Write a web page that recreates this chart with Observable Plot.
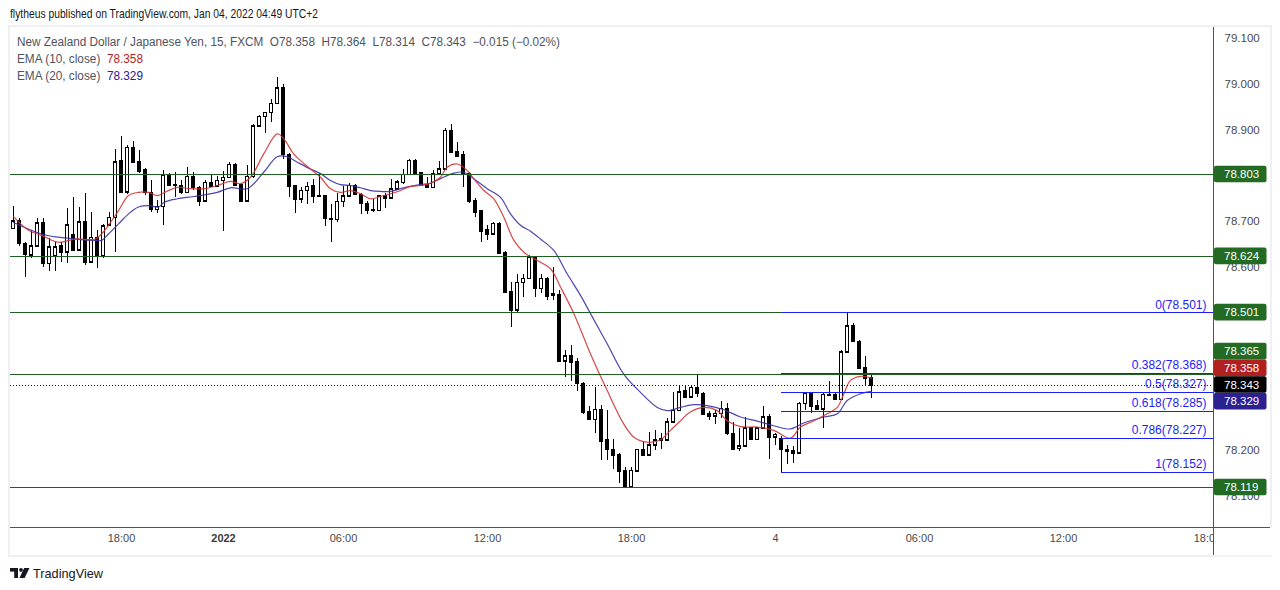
<!DOCTYPE html>
<html><head><meta charset="utf-8">
<script src="https://cdn.jsdelivr.net/npm/d3@7"></script>
<script src="https://cdn.jsdelivr.net/npm/@observablehq/plot@0.6"></script>
<style>
body{margin:0;background:#fff;width:1280px;height:590px;position:relative;overflow:hidden;font-family:"Liberation Sans",Arial,sans-serif;}
.abs{position:absolute;white-space:nowrap;transform-origin:left center;}
#frame{position:absolute;left:8px;top:25px;width:1264px;height:532px;border:2px solid #eef0f4;box-sizing:border-box;}
#chart{position:absolute;left:10px;top:27px;}
.leg{font-size:12px;color:#50535e;line-height:14px;}
</style></head><body>
<div id="header" class="abs" style="left:10px;top:6px;font-size:13px;line-height:16px;color:#131722">flytheus published on TradingView.com, Jan 04, 2022 04:49 UTC+2</div>
<div id="frame"></div>
<div id="chart"></div>
<div id="leg1" class="abs leg" style="left:17px;top:35px"></div>
<div id="leg2" class="abs leg" style="left:17px;top:52px"></div>
<div id="leg3" class="abs leg" style="left:17px;top:69px"></div>
<svg class="abs" style="left:10px;top:568px" width="20" height="11" viewBox="0 0 20 11">
  <rect x="0" y="0" width="8" height="3.6" fill="#131722"/>
  <rect x="4.2" y="0" width="3.8" height="10" fill="#131722"/>
  <circle cx="11" cy="1.9" r="1.9" fill="#131722"/>
  <polygon points="14.2,0 19.5,0 14.6,10 9.4,10" fill="#131722"/>
</svg>
<div id="footer" class="abs" style="left:33px;top:566px;font-size:13px;line-height:15px;color:#131722">TradingView</div>
<script>
// ---- data ----
const candleOpen = [
78.684,78.702,78.652,78.627,78.646,78.697,78.608,78.626,78.646,78.633,
78.671,78.638,78.700,78.611,78.665,78.626,78.692,78.708,78.832,78.764,
78.861,78.830,78.812,78.763,78.726,78.733,78.801,78.780,78.779,78.763,
78.798,78.774,78.745,78.785,78.777,78.789,78.796,78.824,78.780,78.745,
78.798,78.909,78.929,78.938,78.958,78.992,78.846,78.777,78.749,78.767,
78.777,78.756,78.755,78.706,78.704,78.744,78.755,78.779,78.759,78.739,
78.726,78.724,78.756,78.751,78.771,78.785,78.802,78.833,78.807,78.780,
78.774,78.805,78.815,78.899,78.852,78.845,78.805,78.746,78.723,78.681,
78.673,78.695,78.632,78.547,78.506,78.566,78.575,78.622,78.553,78.575,
78.541,78.540,78.395,78.406,78.393,78.346,78.285,78.267,78.289,78.222,
78.201,78.189,78.156,78.121,78.155,78.201,78.190,78.211,78.221,78.222,
78.262,78.287,78.329,78.316,78.337,78.324,78.279,78.275,78.280,78.291,
78.236,78.204,78.209,78.249,78.223,78.249,78.273,78.229,78.226,78.202,
78.199,78.194,78.302,78.324,78.298,78.290,78.322,78.322,78.311,78.415,
78.471,78.438,78.380,78.358];
const candleHigh = [
78.733,78.706,78.654,78.681,78.707,78.707,78.663,78.655,78.655,78.728,
78.753,78.732,78.761,78.721,78.681,78.694,78.721,78.857,78.885,78.866,
78.876,78.855,78.816,78.790,78.746,78.812,78.805,78.808,78.790,78.819,
78.807,78.776,78.790,78.801,78.799,78.810,78.829,78.826,78.782,78.822,
78.912,78.932,78.939,78.968,79.014,78.999,78.848,78.779,78.774,78.785,
78.792,78.805,78.757,78.737,78.761,78.777,78.783,78.781,78.761,78.743,
78.748,78.758,78.761,78.792,78.790,78.813,78.835,78.835,78.808,78.797,
78.812,78.831,78.904,78.912,78.873,78.853,78.807,78.750,78.725,78.692,
78.699,78.698,78.634,78.568,78.584,78.584,78.626,78.624,78.584,78.577,
78.600,78.550,78.418,78.429,78.402,78.348,78.295,78.337,78.298,78.287,
78.223,78.194,78.163,78.163,78.203,78.218,78.240,78.244,78.238,78.270,
78.326,78.340,78.340,78.340,78.364,78.326,78.285,78.287,78.307,78.303,
78.262,78.247,78.271,78.251,78.251,78.295,78.279,78.236,78.230,78.211,
78.209,78.305,78.327,78.326,78.309,78.324,78.351,78.324,78.418,78.501,
78.477,78.440,78.405,78.364];
const candleLow = [
78.683,78.646,78.577,78.619,78.643,78.600,78.590,78.590,78.611,78.608,
78.636,78.636,78.604,78.609,78.597,78.619,78.690,78.633,78.762,78.760,
78.826,78.806,78.757,78.720,78.718,78.692,78.777,78.753,78.760,78.761,
78.767,78.734,78.743,78.775,78.775,78.679,78.794,78.778,78.743,78.743,
78.795,78.906,78.892,78.916,78.956,78.835,78.752,78.717,78.740,78.737,
78.739,78.753,78.690,78.655,78.699,78.730,78.753,78.757,78.715,78.715,
78.721,78.722,78.729,78.749,78.769,78.782,78.800,78.804,78.777,78.772,
78.772,78.803,78.813,78.850,78.841,78.775,78.739,78.710,78.655,78.659,
78.671,78.629,78.542,78.469,78.499,78.535,78.573,78.535,78.542,78.528,
78.528,78.392,78.360,78.351,78.329,78.279,78.265,78.236,78.177,78.178,
78.158,78.128,78.119,78.119,78.153,78.188,78.188,78.200,78.202,78.220,
78.260,78.285,78.314,78.314,78.316,78.276,78.265,78.257,78.269,78.233,
78.200,78.198,78.207,78.221,78.221,78.247,78.180,78.211,78.152,78.169,
78.172,78.192,78.287,78.281,78.287,78.247,78.319,78.309,78.309,78.413,
78.435,78.378,78.342,78.314];
const candleClose = [
78.701,78.652,78.628,78.646,78.697,78.608,78.644,78.644,78.633,78.692,
78.638,78.699,78.611,78.665,78.626,78.690,78.708,78.830,78.764,78.861,
78.830,78.810,78.764,78.726,78.733,78.801,78.780,78.779,78.763,78.798,
78.774,78.745,78.785,78.777,78.789,78.796,78.824,78.780,78.745,78.798,
78.909,78.929,78.938,78.958,78.992,78.846,78.777,78.749,78.767,78.776,
78.756,78.755,78.706,78.705,78.744,78.755,78.779,78.759,78.739,78.724,
78.724,78.756,78.751,78.771,78.786,78.802,78.833,78.806,78.780,78.774,
78.805,78.815,78.899,78.852,78.843,78.805,78.745,78.721,78.679,78.673,
78.695,78.631,78.546,78.506,78.566,78.575,78.622,78.553,78.575,78.537,
78.538,78.395,78.406,78.393,78.346,78.284,78.267,78.289,78.220,78.201,
78.189,78.155,78.121,78.156,78.201,78.190,78.211,78.222,78.224,78.262,
78.287,78.327,78.316,78.337,78.324,78.278,78.275,78.280,78.291,78.236,
78.202,78.209,78.249,78.223,78.249,78.273,78.229,78.234,78.201,78.198,
78.194,78.302,78.324,78.296,78.289,78.322,78.321,78.311,78.415,78.471,
78.437,78.380,78.358,78.343];

// EMA curves (candle index, price)
const ema10Idx = [0,2.5,4.67,7.5,10.33,13.67,14.67,15.83,17.5,19.17,20.83,22.5,24,25.5,27.3,29.5,31.7,33.95,36.17,37.83,39.5,41.7,43.95,45.05,46.7,47.8,49.5,51.17,52.83,54.5,56.17,57.83,59.5,61.17,62.83,64.5,66.17,67.83,69.5,71.17,72.28,73.95,75.6,76.7,78.4,80.05,81.7,83.4,85.05,87.3,89.5,91.17,93.4,96.17,98.95,101.7,103.4,105.6,107.8,109.5,111.17,112.8,115.05,117.3,118.95,121.17,123.95,126.7,129.5,131.17,133.4,135.6,137.3,138.4,139.5,141.17,143];
const ema10Val = [78.711,78.681,78.670,78.655,78.662,78.662,78.673,78.692,78.724,78.757,78.764,78.764,78.757,78.766,78.775,78.772,78.772,78.779,78.788,78.783,78.797,78.848,78.892,78.881,78.848,78.834,78.815,78.797,78.772,78.764,78.768,78.761,78.750,78.755,78.761,78.768,78.777,78.779,78.784,78.797,78.819,78.826,78.812,78.794,78.768,78.750,78.710,78.659,78.633,78.615,78.597,78.557,78.499,78.411,78.331,78.258,78.229,78.218,78.223,78.244,78.265,78.284,78.294,78.287,78.265,78.252,78.251,78.244,78.227,78.251,78.265,78.280,78.294,78.324,78.353,78.362,78.358];
const ema20Idx = [0,4.67,7.5,10.33,13.67,14.67,15.83,17.5,19.17,20.83,22.5,24.17,25.05,27.3,30.05,33.95,36.17,38.95,41.7,43.95,45.6,47.3,49.5,51.17,52.83,54.5,56.17,57.83,59.5,61.17,62.83,64.5,66.17,67.83,69.5,71.17,73.4,75.05,76.7,78.95,81.17,82.83,84.5,86.17,87.83,90.05,92.28,94.5,96.17,98.95,101.7,104.5,107.3,108.95,111.17,113.4,115.6,118.4,121.17,123.95,126.7,129.5,131.7,135.05,137.3,138.95,141.17,143];
const ema20Val = [78.698,78.673,78.666,78.662,78.659,78.659,78.673,78.695,78.717,78.732,78.735,78.732,78.742,78.750,78.755,78.764,78.774,78.772,78.808,78.842,78.842,78.830,78.815,78.805,78.790,78.781,78.779,78.774,78.768,78.766,78.766,78.772,78.777,78.781,78.784,78.794,78.806,78.808,78.794,78.772,78.753,78.717,78.692,78.679,78.662,78.637,78.586,78.539,78.499,78.433,78.367,78.327,78.294,78.287,78.294,78.300,78.298,78.289,78.273,78.264,78.254,78.247,78.260,78.273,78.280,78.309,78.324,78.329];

const supportLevels = [78.803, 78.624, 78.501, 78.365, 78.119];
const fibRatios = [0, 0.382, 0.5, 0.618, 0.786, 1];
const fibPrices = [78.501, 78.368, 78.327, 78.285, 78.227, 78.152];
const fibStartIdx = 128;

// price labels that are visible (the others sit under the price badges)
const priceTicks = [78.1, 78.2, 78.6, 78.7, 78.9, 79.0, 79.1];
const timeTickIdx = [18, 35, 55, 79, 103, 127, 151, 175, 199];
const timeTickLabels = ["18:00", "2022", "06:00", "12:00", "18:00", "4", "06:00", "12:00", "18:00"];

const lastO = 78.358, lastH = 78.364, lastL = 78.314, lastC = 78.343;
const ema10Last = 78.358, ema20Last = 78.329;

const badgePrice = [78.803, 78.624, 78.501, 78.365, 78.358, 78.343, 78.329, 78.119];
const badgeKind = ["level", "level", "level", "level", "ema10", "last", "ema20", "level"];

// ---- styling ----
const FONT = '"Liberation Sans", Arial, sans-serif';
const GREEN_LINE = "#1f5f21", GREEN_BADGE = "#236a23";
const RED = "#cf3434", RED_BADGE = "#b21f1f";
const BLUE_EMA = "#3b31a6", BLUE_BADGE = "#2c2190";
const FIB = "#1d1df5";
const badgeColor = {level: GREEN_BADGE, ema10: RED_BADGE, last: "#000000", ema20: BLUE_BADGE};

const candles = candleOpen.map((o, i) => ({i, open: o, high: candleHigh[i], low: candleLow[i], close: candleClose[i]}));
const ema10 = ema10Idx.map((x, k) => ({i: x, v: ema10Val[k]}));
const ema20 = ema20Idx.map((x, k) => ({i: x, v: ema20Val[k]}));
const fib = fibRatios.map((r, k) => ({ratio: r, price: fibPrices[k]}));
const timeTicks = timeTickIdx.map((x, k) => ({i: x, label: timeTickLabels[k]}));
const X_MAX = 200;
const HW = 0.29;

const chart = Plot.plot({
  width: 1260, height: 528,
  marginLeft: 0, marginRight: 57, marginTop: 0, marginBottom: 28,
  x: {domain: [-0.5, X_MAX], axis: null},
  y: {domain: [78.0316, 79.1243]},
  style: {background: "white", fontFamily: FONT, fontSize: "11px", overflow: "visible"},
  marks: [
    Plot.axisY(priceTicks, {anchor: "right", tickSize: 0, tickPadding: 11, tickFormat: d3.format(".3f"), fontSize: 11.5, color: "#4a4a4a"}),
    Plot.text(timeTicks.filter(d => d.label !== "2022"), {x: "i", text: "label", frameAnchor: "bottom", dy: 14, fontSize: 11, fill: "#4a4a4a"}),
    Plot.text(timeTicks.filter(d => d.label === "2022"), {x: "i", text: "label", frameAnchor: "bottom", dy: 14, fontSize: 11, fontWeight: "bold", fill: "#3a3a3a"}),
    // wicks
    Plot.ruleX(candles, {x: "i", y1: "low", y2: "high", stroke: "#000", strokeWidth: 1, shapeRendering: "crispEdges"}),
    // bodies
    Plot.rect(candles, {x1: d => d.i - HW, x2: d => d.i + HW, y1: "open", y2: "close",
      fill: d => d.close >= d.open ? "#ffffff" : "#000000", stroke: "#000", strokeWidth: 1, shapeRendering: "crispEdges"}),
    Plot.ruleY(candles, {y: "open", x1: d => d.i - HW, x2: d => d.i + HW, stroke: "#000", shapeRendering: "crispEdges"}),
    Plot.ruleY(candles, {y: "close", x1: d => d.i - HW, x2: d => d.i + HW, stroke: "#000", shapeRendering: "crispEdges"}),
    // EMAs
    Plot.line(ema20, {x: "i", y: "v", stroke: BLUE_EMA, strokeWidth: 1.2, curve: "catmull-rom", strokeOpacity: 0.9}),
    Plot.line(ema10, {x: "i", y: "v", stroke: RED, strokeWidth: 1.2, curve: "catmull-rom", strokeOpacity: 0.9}),
    // support / resistance
    Plot.ruleY(supportLevels, {stroke: GREEN_LINE, strokeWidth: 1, shapeRendering: "crispEdges"}),
    // fibonacci
    Plot.ruleY(fib, {y: "price", x1: () => fibStartIdx, x2: () => X_MAX, stroke: FIB, strokeWidth: 1, shapeRendering: "crispEdges"}),
    Plot.text(fib, {y: "price", frameAnchor: "right", textAnchor: "end", dx: -7, dy: -8, fill: FIB, fontSize: 12,
      text: d => `${d.ratio}(${d.price.toFixed(3)})`}),
    // last price dotted
    Plot.ruleY([lastC], {stroke: "#131722", strokeDasharray: "1,2", strokeWidth: 1, shapeRendering: "crispEdges"})
  ]
});
document.getElementById("chart").appendChild(chart);

// axis lines, clip, and price badges
const svg = d3.select(chart);
const ys = chart.scale("y");
const fw = 1203; // right edge of the plot frame
svg.append("rect").attr("x", fw + 0.5).attr("y", 500.5).attr("width", 60).attr("height", 28).attr("fill", "white");
svg.append("line").attr("x1", fw + 0.5).attr("x2", fw + 0.5).attr("y1", 0).attr("y2", 528).attr("stroke", "#50535e");
svg.append("line").attr("x1", 0).attr("x2", 1260).attr("y1", 500.5).attr("y2", 500.5).attr("stroke", "#50535e");

const H = 16.7;
const items = badgePrice.map((p, k) => ({p, kind: badgeKind[k], y: ys.apply(p)}));
const anchor = items.find(d => d.kind === "last");
let prev = anchor.y;
for (const d of items.filter(d => d.p > anchor.p).sort((a, b) => a.p - b.p)) { d.y = Math.min(d.y, prev - H); prev = d.y; }
prev = anchor.y;
for (const d of items.filter(d => d.p < anchor.p).sort((a, b) => b.p - a.p)) { d.y = Math.max(d.y, prev + H); prev = d.y; }
const bg = svg.append("g").attr("text-anchor", "start");
for (const d of items) {
  bg.append("rect").attr("x", fw + 1).attr("y", d.y - H / 2).attr("width", 52.5).attr("height", H).attr("rx", 2).attr("fill", badgeColor[d.kind]);
  bg.append("text").attr("x", fw + 11).attr("y", d.y).attr("dy", "0.35em").attr("fill", "white")
    .attr("text-anchor", "start").attr("font-size", 11.5).attr("font-family", FONT).text(d.p.toFixed(3));
}

// legend
const f3 = d3.format(".3f");
const chg = lastC - lastO;
document.getElementById("leg1").innerHTML =
  `New Zealand Dollar / Japanese Yen, 15, FXCM&nbsp;&nbsp;O${f3(lastO)}&nbsp;&nbsp;H${f3(lastH)}&nbsp;&nbsp;L${f3(lastL)}&nbsp;&nbsp;C${f3(lastC)}&nbsp;&nbsp;${d3.format(".3f")(chg).replace("-", "\u2212")} (${d3.format(".2f")(chg / lastO * 100).replace("-", "\u2212")}%)`;
document.getElementById("leg2").innerHTML = `EMA (10, close)&nbsp;&nbsp;<span style="color:${RED_BADGE}">${f3(ema10Last)}</span>`;
document.getElementById("leg3").innerHTML = `EMA (20, close)&nbsp;&nbsp;<span style="color:${BLUE_BADGE}">${f3(ema20Last)}</span>`;

function fit(id, target) {
  const el = document.getElementById(id);
  const w = el.getBoundingClientRect().width;
  if (w > 0) el.style.transform = `scaleX(${target / w})`;
}
fit("header", 308);
fit("leg1", 543);
fit("leg2", 126);
fit("leg3", 126);
fit("footer", 70);
</script>
</body></html>
